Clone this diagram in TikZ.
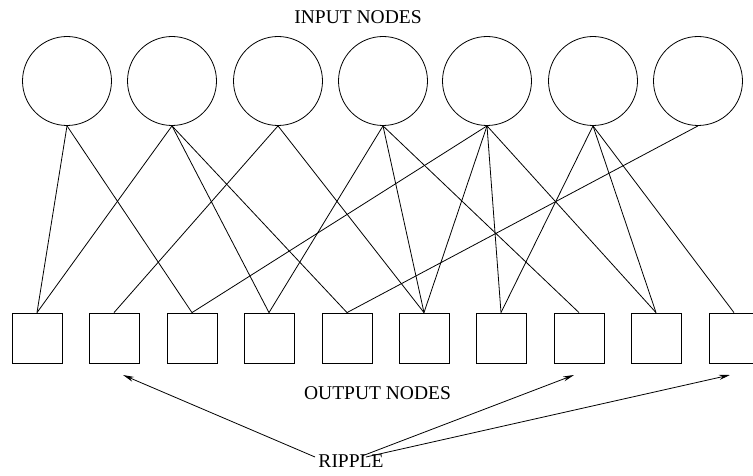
\documentclass[tikz,border=0pt]{standalone}
\usepackage{fontspec}
\setmainfont{Liberation Serif}
\usetikzlibrary{arrows.meta}
\begin{document}
\begin{tikzpicture}[x=1pt,y=-1pt,
  innode/.style={draw,circle,line width=0.8pt,minimum size=89pt,inner sep=0pt},
  outnode/.style={draw,rectangle,line width=0.8pt,minimum size=50pt,inner sep=0pt},
  link/.style={line width=0.8pt},
  ripplearrow/.style={line width=0.8pt,-{Stealth[length=11pt,width=5pt]}},
  lab/.style={font=\fontsize{19.5}{22}\selectfont,anchor=base,inner sep=0pt}]
\useasboundingbox (0,0) rectangle (753,476);
\clip (0,0) rectangle (753,476);
% input nodes
\foreach \i/\x in {1/67,2/172,3/278,4/383,5/487,6/593,7/698}
  \node[innode] (c\i) at (\x,81) {};
% output nodes
\foreach \i/\x in {1/37,2/114,3/192,4/269,5/347,6/424,7/501,8/579,9/656,10/734}
  \node[outnode] (s\i) at (\x,338) {};
% connections
\foreach \a/\b in {1/1,1/3,2/1,2/4,2/5,3/2,3/6,4/4,4/6,4/8,5/3,5/6,5/7,5/9,6/7,6/9,6/10,7/5}
  \draw[link] (c\a.south) -- (s\b.north);
% labels
\node[lab] (inlab) at (358,24) {INPUT NODES};
\node[lab] (outlab) at (377.5,399) {OUTPUT NODES};
\node[lab] (ripple) at (351,467) {RIPPLE};
% arrows
\coordinate (r1) at (315,457);
\coordinate (r2) at (362,456);
\coordinate (r3) at (366,457);
\coordinate (t1) at (123,375);
\coordinate (t2) at (574,375);
\coordinate (t3) at (730,375);
\draw[ripplearrow] (r1) -- (t1);
\draw[ripplearrow] (r2) -- (t2);
\draw[ripplearrow] (r3) -- (t3);
\end{tikzpicture}
\end{document}
